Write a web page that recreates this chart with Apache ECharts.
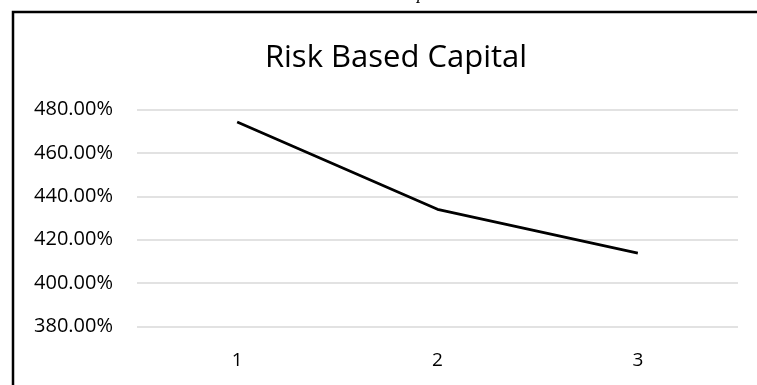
<!DOCTYPE html>
<html>
<head>
<meta charset="utf-8">
<script src="https://cdn.jsdelivr.net/npm/echarts@6/dist/echarts.min.js"></script>
<style>
  html, body { margin: 0; padding: 0; background: #ffffff; }
  #chart { width: 757px; height: 385px; }
</style>
</head>
<body>
<div id="chart"></div>
<script>
// Risk based capital ratio by period (percent)
const categories = ['1', '2', '3'];
const rbcValues = [474.2, 434.0, 413.8];
const yMin = 380;
const yMax = 480;
const yStep = 20;

const FONT = '"Open Sans", "Liberation Sans", sans-serif';

const chart = echarts.init(document.getElementById('chart'), null, { renderer: 'canvas' });

chart.setOption({
  backgroundColor: '#ffffff',
  animation: false,
  title: {
    text: 'Risk Based Capital',
    left: 391,
    top: 38,
    textAlign: 'center',
    textStyle: {
      fontFamily: FONT,
      fontWeight: 'normal',
      fontSize: 31,
      color: '#000000'
    }
  },
  graphic: [
    {
      type: 'rect',
      shape: { x: 13, y: 12, width: 800, height: 420 },
      style: { fill: 'none', stroke: '#000000', lineWidth: 2.5 },
      silent: true
    },
    {
      type: 'text',
      left: 417,
      top: -15,
      style: {
        text: 'p',
        font: 'italic 18px "Liberation Serif", serif',
        fill: '#000000'
      },
      silent: true
    }
  ],
  grid: {
    left: 137,
    right: 19,
    top: 109.5,
    height: 217,
    containLabel: false
  },
  xAxis: {
    type: 'category',
    data: categories,
    boundaryGap: true,
    axisLine: { show: false },
    axisTick: { show: false },
    axisLabel: {
      margin: 25,
      fontFamily: FONT,
      fontSize: 19,
      color: '#000000'
    },
    splitLine: { show: false }
  },
  yAxis: {
    type: 'value',
    min: yMin,
    max: yMax,
    interval: yStep,
    axisLine: { show: false },
    axisTick: { show: false },
    axisLabel: {
      margin: 24,
      fontFamily: FONT,
      fontSize: 20,
      color: '#000000',
      formatter: function (v) { return v.toFixed(2) + '%'; }
    },
    splitLine: { show: true, lineStyle: { color: '#d9d9d9', width: 1.5 } }
  },
  series: [
    {
      name: 'Risk Based Capital',
      type: 'line',
      data: rbcValues,
      symbol: 'none',
      lineStyle: { color: '#000000', width: 2.75 }
    }
  ]
});
</script>
</body>
</html>
